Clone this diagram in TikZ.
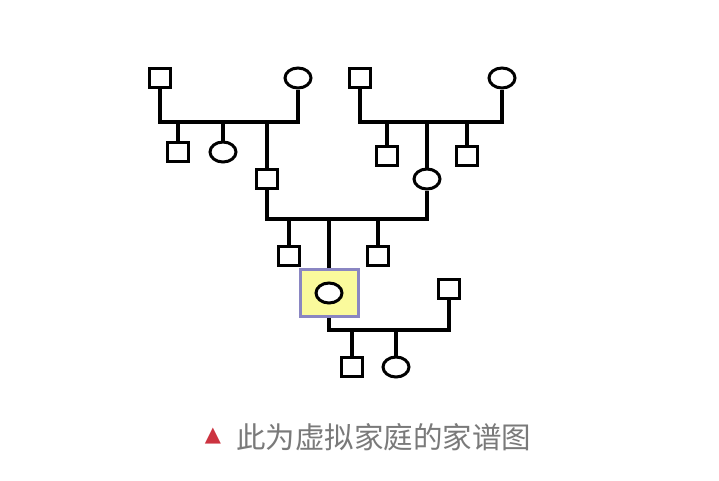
\documentclass[tikz,border=0pt]{standalone}
\usepackage{fontspec}
\newfontfamily\cjk{Noto Sans CJK SC}
\newfontfamily\dejavu{DejaVu Sans}
\usetikzlibrary{shapes.geometric}
\definecolor{boxfill}{HTML}{FAFA9C}
\definecolor{boxline}{HTML}{8A86C2}
\definecolor{captxt}{HTML}{7A7A7A}
\definecolor{capred}{HTML}{CC3340}
\tikzset{
  male/.style={draw=black, line width=3pt, rectangle, minimum width=21pt, minimum height=19pt, inner sep=0pt, fill=white},
  female/.style={draw=black, line width=3pt, ellipse, minimum width=26pt, minimum height=20pt, inner sep=0pt, fill=white},
  link/.style={draw=black, line width=3.2pt},
  probandbox/.style={draw=boxline, fill=boxfill, line width=3pt, rectangle, minimum width=58pt, minimum height=47pt, inner sep=0pt},
}
\begin{document}
\begin{tikzpicture}[x=1pt,y=-1pt]
\useasboundingbox (0,0) rectangle (719,480);
\fill[white] (0,0) rectangle (719,480);
% bars
\coordinate (b1) at (0,122);
\coordinate (b2) at (0,122);
\coordinate (b3) at (0,219);
\coordinate (b4) at (0,330);
% generation I
\node[male] (A) at (160,78) {};
\node[female] (B) at (298,78) {};
\node[male] (C) at (360,78) {};
\node[female] (D) at (502,78) {};
% generation II
\node[male] (A1) at (178,152) {};
\node[female] (A2) at (223,152) {};
\node[male] (F) at (267,179) {};
\node[male] (C1) at (387,156) {};
\node[female] (M) at (427,179) {};
\node[male] (C2) at (467,156) {};
% generation III
\node[male] (E1) at (289,256) {};
\node[probandbox] (P) at (329,293) {};
\node[female] (Pc) at (329,293) {};
\node[male] (E2) at (378,256) {};
\node[male] (S) at (449,289) {};
% generation IV
\node[male] (K1) at (352,367) {};
\node[female] (K2) at (396,367) {};
% family 1
\draw[link] (A.south) -- (A.south |- b1) -- (B.south |- b1) -- (B.south);
\draw[link] (A1.north) -- (A1.north |- b1);
\draw[link] (A2.north) -- (A2.north |- b1);
\draw[link] (F.north) -- (F.north |- b1);
% family 2
\draw[link] (C.south) -- (C.south |- b2) -- (D.south |- b2) -- (D.south);
\draw[link] (C1.north) -- (C1.north |- b2);
\draw[link] (M.north) -- (M.north |- b2);
\draw[link] (C2.north) -- (C2.north |- b2);
% family 3
\draw[link] (F.south) -- (F.south |- b3) -- (M.south |- b3) -- (M.south);
\draw[link] (E1.north) -- (E1.north |- b3);
\draw[link] (P.north) -- (P.north |- b3);
\draw[link] (E2.north) -- (E2.north |- b3);
% family 4
\draw[link] (P.south) -- (P.south |- b4) -- (S.south |- b4) -- (S.south);
\draw[link] (K1.north) -- (K1.north |- b4);
\draw[link] (K2.north) -- (K2.north |- b4);
% caption
\node[text=capred, font=\dejavu\fontsize{21}{21}\selectfont, inner sep=0pt] (tri) at (213,436) {▲};
\node[text=captxt, font=\cjk\fontsize{29.5}{29.5}\selectfont, anchor=west, inner sep=0pt] (cap) at (236,437) {此为虚拟家庭的家谱图};
\end{tikzpicture}
\end{document}
